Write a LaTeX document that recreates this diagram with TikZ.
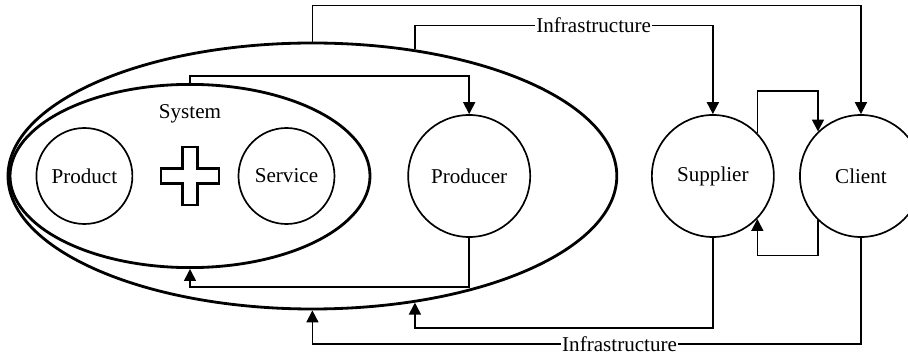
\documentclass[tikz,border=0pt]{standalone}
\usepackage{fontspec}
\setmainfont{Liberation Serif}
\usetikzlibrary{arrows.meta,shapes.geometric,positioning}

\begin{document}
\begin{tikzpicture}
		[part/.style={draw,circle,line width=1.2pt,minimum size=2.4cm,inner sep=0pt},
		actor/.style={draw,circle,line width=1.2pt,minimum size=3.05cm,inner sep=0pt},
		bound/.style={draw,ellipse,line width=2pt,inner sep=0pt},
		flow/.style={line width=1.2pt,-{Triangle[length=8.5pt,width=8.5pt]}},
		tag/.style={fill=white,inner sep=1pt},
		every node/.style={font=\fontsize{15}{18}\selectfont}]

			\useasboundingbox (0,-4.525) rectangle (22.7,4.4);
			\node[bound, minimum width=15.22cm, minimum height=6.65cm](outer) at (7.81,0) {};
			\node[bound, minimum width=9cm, minimum height=4.58cm](system) at (4.75,0) {};
			\node[part](product) at (2.11,0) {Product};
			\node[part, right=2.61cm of product](service) {Service};
			\node[actor, right=1.8cm of service](producer) {Producer};
			\node[actor, right=3cm of producer](supplier) {Supplier};
			\node[actor, right=0.61cm of supplier](client) {Client};
			\coordinate (plus) at (4.75,0);
			\node[above=1.2cm of plus](systemlabel) {System};

			% plus sign between product and service
			\draw[line width=1.6pt] (plus) ++(-0.73,0.19) -- ++(0.54,0) -- ++(0,0.54) -- ++(0.38,0) -- ++(0,-0.54) -- ++(0.54,0) -- ++(0,-0.38) -- ++(-0.54,0) -- ++(0,-0.54) -- ++(-0.38,0) -- ++(0,0.54) -- ++(-0.54,0) -- cycle;

			\draw[flow] (outer.north) -- ++(0,0.9) -| (client.north);
			\draw[flow] (outer.51) -- ++(0,0.6) -| node[tag, pos=0.3]{Infrastructure} (supplier.north);
			\draw[flow] (system.north) -- ++(0,0.18) -| (producer.north);
			\draw[flow] (producer.south) -- ++(0,-1.225) -| (system.south);
			\draw[flow] (supplier.south) -- ++(0,-2.25) -| (outer.-51);
			\draw[flow] (client.south) -- ++(0,-2.65) -| node[tag, pos=0.22]{Infrastructure} (outer.south);
			\draw[flow] (supplier.44) -- ++(0,1.05) -| (client.134);
			\draw[flow] (client.-134) -- ++(0,-0.875) -| (supplier.-44);

	\end{tikzpicture}
\end{document}
